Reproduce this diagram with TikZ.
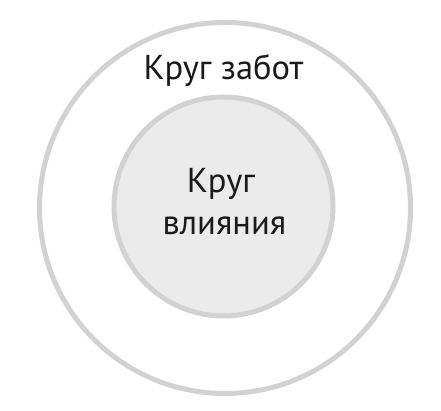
\documentclass[tikz,border=0pt]{standalone}
\usepackage{fontspec}
\setmainfont{PT Sans}
\definecolor{ringgray}{HTML}{D2D2D2}
\definecolor{innerfill}{HTML}{EBEBEB}
\definecolor{txt}{HTML}{1A1A1A}
\begin{document}
\begin{tikzpicture}[x=1pt,y=1pt,
  ring/.style={draw=ringgray,line width=5pt},
  lbl/.style={text=txt,font=\fontsize{34.5}{41}\selectfont,anchor=base,inner sep=0pt}]
\useasboundingbox (0,0) rectangle (441,411);
\fill[white] (0,0) rectangle (441,411);
\node[ring,circle,minimum size=371pt,inner sep=0pt] (outer) at (225,203) {};
\node[ring,circle,fill=innerfill,minimum size=219pt,inner sep=0pt] (inner) at (223.5,204.5) {};
\node[lbl] (care) at (223.5,331) {Круг забот};
\node[lbl] (infl1) at (221,218) {Круг};
\node[lbl] (infl2) at (224.5,176) {влияния};
\end{tikzpicture}
\end{document}
